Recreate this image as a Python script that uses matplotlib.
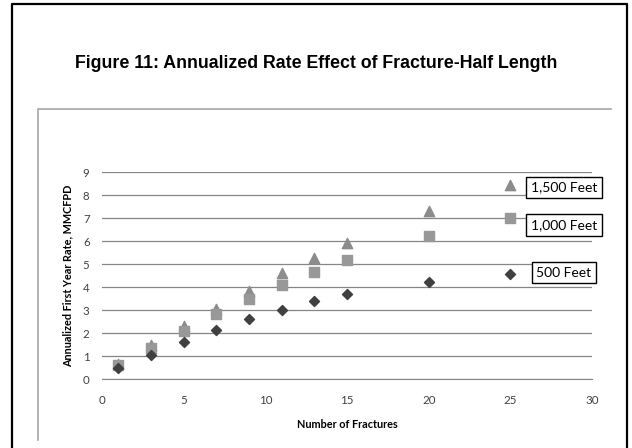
import numpy as np
import matplotlib
matplotlib.use("Agg")
import matplotlib.pyplot as plt
from matplotlib.lines import Line2D

# data
fractures = [1, 3, 5, 7, 9, 11, 13, 15, 20, 25]
rate_500 = [0.50, 1.05, 1.60, 2.12, 2.60, 3.02, 3.40, 3.71, 4.24, 4.56]
rate_1000 = [0.60, 1.35, 2.10, 2.82, 3.50, 4.08, 4.67, 5.19, 6.24, 7.00]
rate_1500 = [0.65, 1.50, 2.30, 3.05, 3.85, 4.60, 5.28, 5.91, 7.29, 8.45]
series_labels = ["500 Feet", "1,000 Feet", "1,500 Feet"]

W, H = 632, 448
fig = plt.figure(figsize=(W / 100, H / 100), dpi=100)

body_font = ["Lato", "DejaVu Sans"]
title_font = ["Liberation Sans", "DejaVu Sans"]

# outer black frame and inner gray chart frame (figure pixel coords)
def px(x, y):
    return x / W, 1 - y / H

fig.add_artist(Line2D([px(12, 0)[0], px(12, 0)[0], px(627, 0)[0], px(627, 0)[0]],
                      [0, px(0, 4.5)[1], px(0, 4.5)[1], 0],
                      color="black", lw=1.6, transform=fig.transFigure))
fig.add_artist(Line2D([px(37.7, 0)[0], px(37.7, 0)[0], px(611, 0)[0]],
                      [px(0, 440)[1], px(0, 109)[1], px(0, 109)[1]],
                      color="#a6a6a6", lw=1.2, transform=fig.transFigure))

fig.text(0.5, 1 - 63 / H, "Figure 11: Annualized Rate Effect of Fracture-Half Length",
         ha="center", va="center", fontsize=12.8, fontweight="bold", family=title_font)

ax = fig.add_axes([102 / W, 1 - 379.3 / H, 490 / W, 207.3 / H])
ax.set_xlim(0, 30)
ax.set_ylim(0, 9)
ax.set_xticks(range(0, 31, 5))
ax.set_yticks(range(0, 10))
for s in ["top", "right", "left"]:
    ax.spines[s].set_visible(False)
ax.spines["bottom"].set_color("#868686")
ax.yaxis.grid(True, color="#868686", lw=0.9)
ax.set_axisbelow(True)
ax.tick_params(length=0, labelsize=8.3, colors="#404040")
ax.tick_params(axis="x", pad=11)
ax.tick_params(axis="y", pad=9)
for lab in ax.get_xticklabels() + ax.get_yticklabels():
    lab.set_family(body_font)

ax.scatter(fractures, rate_1500, marker="^", s=55, color="#8c8c8c", zorder=3)
ax.scatter(fractures, rate_1000, marker="s", s=55, color="#989898", zorder=4)
ax.scatter(fractures, rate_500, marker="D", s=26, color="#404040", zorder=5)

ax.set_xlabel("Number of Fractures", fontsize=7.8, fontweight="bold", family=body_font, labelpad=10)
ax.set_ylabel("Annualized First Year Rate, MMCFPD", fontsize=7.8, fontweight="bold",
              family=body_font, labelpad=7)

box = dict(boxstyle="square,pad=0.35", facecolor="white", edgecolor="black", lw=1.0)
label_pos = [(564, 272.5), (564, 225), (564, 187.5)]
for text, (x, y) in zip(series_labels, label_pos):
    fig.text(x / W, 1 - y / H, text, ha="center", va="center", fontsize=10,
             family=body_font, bbox=box)

fig.savefig("out.png", dpi=100)
